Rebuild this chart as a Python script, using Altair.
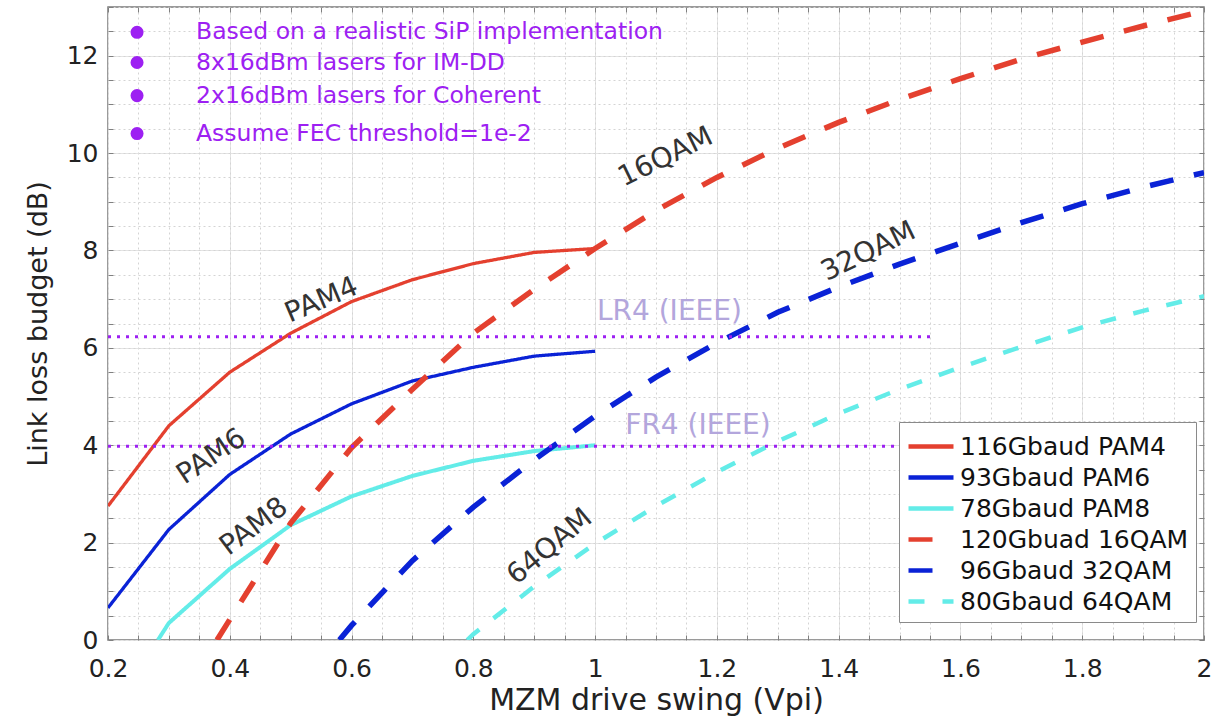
import altair as alt
import pandas as pd

FONT = "DejaVu Sans"
PURPLE = "#9d20f2"

# ---------------- data ----------------
names = ["116Gbaud PAM4", "93Gbaud PAM6", "78Gbaud PAM8",
         "120Gbuad 16QAM", "96Gbaud 32QAM", "80Gbaud 64QAM"]
colors = ["#e4402f", "#0a22d6", "#63ece8", "#e4402f", "#0a22d6", "#63ece8"]
dashes = [[1, 0], [1, 0], [1, 0], [24, 21], [24, 21], [16, 18]]
widths = [3.3, 3.3, 4, 5.5, 5.5, 4.5]

pam4_x = [0.2, 0.3, 0.4, 0.5, 0.6, 0.7, 0.8, 0.9, 1.0]
pam4_y = [2.75, 4.4, 5.5, 6.3, 6.95, 7.4, 7.73, 7.96, 8.04]

pam6_x = [0.2, 0.3, 0.4, 0.5, 0.6, 0.7, 0.8, 0.9, 1.0]
pam6_y = [0.66, 2.27, 3.4, 4.23, 4.85, 5.32, 5.6, 5.83, 5.93]

pam8_x = [0.282, 0.3, 0.4, 0.5, 0.6, 0.7, 0.8, 0.9, 1.0]
pam8_y = [0.0, 0.35, 1.46, 2.36, 2.95, 3.37, 3.68, 3.88, 4.0]

qam16_x = [0.379, 0.4, 0.5, 0.6, 0.7, 0.8, 0.9, 1.0, 1.1, 1.2, 1.3, 1.4,
           1.5, 1.6, 1.7, 1.8, 1.9, 2.0]
qam16_y = [0.0, 0.42, 2.4, 3.95, 5.15, 6.3, 7.2, 8.04, 8.82, 9.5, 10.1, 10.63,
           11.1, 11.53, 11.93, 12.28, 12.61, 12.92]

qam32_x = [0.58, 0.6, 0.7, 0.8, 0.9, 1.0, 1.1, 1.2, 1.3, 1.4, 1.5, 1.6,
           1.7, 1.8, 1.9, 2.0]
qam32_y = [0.0, 0.3, 1.63, 2.73, 3.7, 4.6, 5.4, 6.1, 6.73, 7.25, 7.72, 8.15,
           8.57, 8.96, 9.3, 9.6]

qam64_x = [0.79, 0.8, 0.9, 1.0, 1.1, 1.2, 1.3, 1.4, 1.5, 1.6, 1.7, 1.8,
           1.9, 2.0]
qam64_y = [0.0, 0.12, 1.1, 1.98, 2.75, 3.45, 4.08, 4.65, 5.15, 5.6, 6.02,
           6.42, 6.76, 7.06]

series_x = [pam4_x, pam6_x, pam8_x, qam16_x, qam32_x, qam64_x]
series_y = [pam4_y, pam6_y, pam8_y, qam16_y, qam32_y, qam64_y]

ann_labels = ["PAM4", "PAM6", "PAM8", "16QAM", "32QAM", "64QAM"]
ann_x = [0.551, 0.37, 0.44, 1.116, 1.449, 0.926]
ann_y = [6.97, 3.76, 2.32, 9.91, 7.97, 1.91]
ann_angle = [337, 326, 323, 334, 334, 320]

ieee_labels = ["LR4 (IEEE)", "FR4 (IEEE)"]
ieee_x = [1.122, 1.169]
ieee_y = [6.73, 4.39]
ieee_x0 = [0.2, 0.2]
ieee_x1 = [1.555, 1.555]
ieee_level = [6.23, 3.98]

bullet_text = ["Based on a realistic SiP implementation",
               "8x16dBm lasers for IM-DD",
               "2x16dBm lasers for Coherent",
               "Assume FEC threshold=1e-2"]
bullet_y = [12.48, 11.86, 11.18, 10.4]
bullet_dot_x = [0.2477] * 4
bullet_txt_x = [0.3446] * 4

x_major = [0.2, 0.4, 0.6, 0.8, 1.0, 1.2, 1.4, 1.6, 1.8, 2.0]
y_major = [0, 2, 4, 6, 8, 10, 12]
x_minor = [round(0.2 + 0.05 * i, 2) for i in range(37)]
y_minor = [0.5 * i for i in range(27)]

# ---------------- tables ----------------
rows = []
for n, xs, ys, w in zip(names, series_x, series_y, widths):
    for xv, yv in zip(xs, ys):
        rows.append({"series": n, "x": xv, "y": yv, "w": w})
df = pd.DataFrame(rows)

ann_df = pd.DataFrame({"label": ann_labels, "x": ann_x, "y": ann_y, "angle": ann_angle})
ieee_df = pd.DataFrame({"label": ieee_labels, "x": ieee_x, "y": ieee_y})
hl_df = pd.DataFrame({"x0": ieee_x0, "x1": ieee_x1, "y": ieee_level})
bul_df = pd.DataFrame({"text": bullet_text, "y": bullet_y,
                       "xd": bullet_dot_x, "xt": bullet_txt_x})

xscale = alt.Scale(domain=[0.2, 2.0], nice=False, zero=False)
yscale = alt.Scale(domain=[0, 13], nice=False, zero=False)

leg = alt.Legend(title=None, orient="none", legendX=791, legendY=415,
                 symbolType="M-1,0H2", symbolSize=900, symbolStrokeWidth=4.5,
                 labelFont=FONT, labelFontSize=25, labelColor="#111",
                 labelOffset=19, labelLimit=400, rowPadding=0, padding=7,
                 fillColor="white", strokeColor="#8a8a8a", cornerRadius=0)

tick_common = dict(labels=False, domain=False, grid=False, ticks=True,
                   tickSize=5, tickColor="#808080", tickWidth=1, title=None)

lines = alt.Chart(df).mark_line(clip=True).encode(
    x=alt.X("x:Q", scale=xscale,
            axis=alt.Axis(values=x_major, format="~g", orient="bottom",
                          grid=True, gridColor="#e3e3e3", gridWidth=1,
                          ticks=False, domain=False,
                          labelFont=FONT, labelFontSize=25, labelColor="#222",
                          labelPadding=16, labelFlush=False,
                          title="MZM drive swing (Vpi)", titleFont=FONT,
                          titleFontSize=30, titleFontWeight="normal",
                          titleColor="#222", titlePadding=4)),
    y=alt.Y("y:Q", scale=yscale,
            axis=alt.Axis(values=y_major, format="d", orient="left",
                          grid=True, gridColor="#e3e3e3", gridWidth=1,
                          ticks=False, domain=False,
                          labelFont=FONT, labelFontSize=25, labelColor="#222",
                          labelPadding=10, labelFlush=False,
                          title="Link loss budget (dB)", titleFont=FONT,
                          titleFontSize=27, titleFontWeight="normal",
                          titleColor="#222", titlePadding=14)),
    color=alt.Color("series:N", scale=alt.Scale(domain=names, range=colors), legend=leg),
    strokeDash=alt.StrokeDash("series:N", scale=alt.Scale(domain=names, range=dashes), legend=leg),
    strokeWidth=alt.StrokeWidth("w:Q", scale=None, legend=None),
    detail="series:N",
)

hlines = alt.Chart(hl_df).mark_rule(color=PURPLE, strokeDash=[3, 6], strokeWidth=3).encode(
    x=alt.X("x0:Q", scale=xscale,
            axis=alt.Axis(values=x_minor, orient="bottom", grid=True,
                          gridDash=[2, 3], gridColor="#d4d4d4", labels=False,
                          ticks=False, domain=False, title=None)),
    x2="x1:Q",
    y=alt.Y("y:Q", scale=yscale,
            axis=alt.Axis(values=y_minor, orient="left", grid=True,
                          gridDash=[2, 3], gridColor="#d4d4d4", labels=False,
                          ticks=False, domain=False, title=None)),
)

ann = alt.Chart(ann_df).mark_text(font=FONT, fontSize=28, color="#333333",
                                  align="center", baseline="middle").encode(
    x=alt.X("x:Q", scale=xscale,
            axis=alt.Axis(values=x_minor, orient="bottom", offset=-5, **tick_common)),
    y=alt.Y("y:Q", scale=yscale,
            axis=alt.Axis(values=y_minor, orient="left", offset=-5, **tick_common)),
    text="label:N",
    angle=alt.Angle("angle:Q", scale=None),
)

btxt = alt.Chart(bul_df).mark_text(font=FONT, fontSize=23.5, color=PURPLE,
                                   align="left", baseline="middle").encode(
    x=alt.X("xt:Q", scale=xscale,
            axis=alt.Axis(values=x_minor, orient="top", offset=-5, **tick_common)),
    y=alt.Y("y:Q", scale=yscale,
            axis=alt.Axis(values=y_minor, orient="right", offset=-5, **tick_common)),
    text="text:N",
)

bdot = alt.Chart(bul_df).mark_circle(size=170, color=PURPLE, opacity=1).encode(
    x=alt.X("xd:Q", scale=xscale, axis=None),
    y=alt.Y("y:Q", scale=yscale, axis=None),
)

ieee = alt.Chart(ieee_df).mark_text(font=FONT, fontSize=28, color="#b3a6dc",
                                    align="center", baseline="middle").encode(
    x=alt.X("x:Q", scale=xscale, axis=None),
    y=alt.Y("y:Q", scale=yscale, axis=None),
    text="label:N",
)

chart = alt.layer(lines, hlines, ann, btxt, bdot, ieee).resolve_axis(
    x="independent", y="independent"
).properties(
    width=1096, height=633,
    autosize=alt.AutoSizeParams(type="none"),
    padding={"left": 108, "top": 7, "right": 8, "bottom": 85},
    background="white",
).configure_view(stroke="#7a7a7a", strokeWidth=1.5)

chart.save("out.html", embed_options={"renderer": "svg", "actions": False})
